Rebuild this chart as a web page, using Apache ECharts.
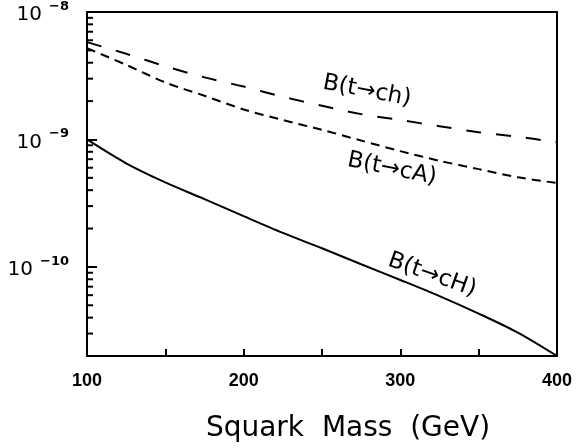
<!DOCTYPE html>
<html>
<head>
<meta charset="utf-8">
<script src="https://cdn.jsdelivr.net/npm/echarts@6/dist/echarts.min.js"></script>
<style>
  html, body { margin: 0; padding: 0; background: #fff; }
  #chart { width: 582px; height: 448px; }
</style>
</head>
<body>
<div id="chart"></div>
<script>
// squark mass (GeV)
const massValues = [100, 125, 150, 175, 200, 225, 250, 275, 300, 325, 350, 375, 400]
// B(t->ch), long dashes
const chValues = [5.8e-9, 4.7e-9, 3.75e-9, 3.07e-9, 2.6e-9, 2.16e-9, 1.84e-9, 1.58e-9, 1.42e-9, 1.27e-9, 1.14e-9, 1.05e-9, 0.95e-9]
// B(t->cA), short dashes
const cAValues = [5.2e-9, 3.85e-9, 2.8e-9, 2.2e-9, 1.72e-9, 1.42e-9, 1.19e-9, 0.98e-9, 8.1e-10, 6.8e-10, 5.85e-10, 5.05e-10, 4.55e-10]
// B(t->cH), solid
const cHValues = [1.0e-9, 6.5e-10, 4.6e-10, 3.4e-10, 2.5e-10, 1.85e-10, 1.4e-10, 1.05e-10, 7.9e-11, 5.9e-11, 4.3e-11, 3.05e-11, 2.0e-11]
// minor ticks on the log axis
const yMinorTicks = [
  3e-11, 4e-11, 5e-11, 6e-11, 7e-11, 8e-11, 9e-11,
  2e-10, 3e-10, 4e-10, 5e-10, 6e-10, 7e-10, 8e-10, 9e-10,
  2e-9, 3e-9, 4e-9, 5e-9, 6e-9, 7e-9, 8e-9, 9e-9
]
const curveLabels = ['B(t→ch)', 'B(t→cA)', 'B(t→cH)']

const pairs = (ys) => massValues.map((x, i) => [x, ys[i]])

const myChart = echarts.init(document.getElementById('chart'))

const option = {
  backgroundColor: '#fff',
  animation: false,
  grid: {
    left: 87,
    top: 12,
    right: 25,
    bottom: 91,
    show: true,
    borderColor: '#000',
    borderWidth: 2
  },
  xAxis: {
    type: 'value',
    min: 100,
    max: 400,
    interval: 50,
    name: 'Squark  Mass  (GeV)',
    nameLocation: 'middle',
    nameGap: 59,
    nameTextStyle: {
      fontFamily: 'DejaVu Sans',
      fontSize: 28,
      color: '#000',
      padding: [0, 0, 0, 52]
    },
    axisLine: { show: false },
    axisTick: { show: true, inside: true, length: 7, lineStyle: { color: '#000', width: 2 } },
    splitLine: { show: false },
    axisLabel: {
      margin: 16,
      color: '#000',
      fontFamily: 'Liberation Sans',
      fontWeight: 'bold',
      fontSize: 18,
      formatter: (v) => (v % 100 === 0 ? String(v) : '')
    }
  },
  yAxis: {
    type: 'log',
    logBase: 10,
    min: 2e-11,
    max: 1e-8,
    axisLine: { show: false },
    axisTick: { show: true, inside: true, length: 10, lineStyle: { color: '#000', width: 2 } },
    splitLine: { show: false },
    axisLabel: {
      margin: 18,
      color: '#000',
      formatter: (v) => {
        const e = Math.log10(v)
        const r = Math.round(e)
        if (Math.abs(e - r) > 1e-4) return ''
        return '{b|10}{s|−' + (-r) + '}'
      },
      rich: {
        b: { fontFamily: 'DejaVu Sans', fontSize: 20, color: '#000', padding: [6, 0, 0, 0] },
        s: { fontFamily: 'DejaVu Sans', fontSize: 13, fontWeight: 'bold', color: '#000', padding: [0, 0, 11, 7] }
      }
    }
  },
  series: [
    {
      name: curveLabels[0],
      type: 'line',
      data: pairs(chValues),
      smooth: 0.3,
      symbol: 'none',
      lineStyle: { color: '#000', width: 2, type: [15, 15] }
    },
    {
      name: curveLabels[1],
      type: 'line',
      data: pairs(cAValues),
      smooth: 0.3,
      symbol: 'none',
      lineStyle: { color: '#000', width: 2, type: [9, 6] }
    },
    {
      name: curveLabels[2],
      type: 'line',
      data: pairs(cHValues),
      smooth: 0.3,
      symbol: 'none',
      lineStyle: { color: '#000', width: 2 }
    },
    {
      // minor ticks of the log axis
      type: 'custom',
      silent: true,
      data: yMinorTicks.map((v) => [100, v]),
      renderItem: (params, api) => {
        const p = api.coord([api.value(0), api.value(1)])
        return {
          type: 'line',
          shape: { x1: p[0], y1: p[1], x2: p[0] + 6, y2: p[1] },
          style: { stroke: '#000', lineWidth: 2 }
        }
      }
    }
  ],
  graphic: [
    {
      type: 'text', x: 367, y: 91, rotation: -0.19,
      style: { text: curveLabels[0], fontFamily: 'DejaVu Sans', fontSize: 23, fill: '#000', align: 'center', verticalAlign: 'middle' }
    },
    {
      type: 'text', x: 392, y: 169, rotation: -0.2,
      style: { text: curveLabels[1], fontFamily: 'DejaVu Sans', fontSize: 23, fill: '#000', align: 'center', verticalAlign: 'middle' }
    },
    {
      type: 'text', x: 432, y: 275, rotation: -0.34,
      style: { text: curveLabels[2], fontFamily: 'DejaVu Sans', fontSize: 23, fill: '#000', align: 'center', verticalAlign: 'middle' }
    }
  ]
}

myChart.setOption(option)
</script>
</body>
</html>
